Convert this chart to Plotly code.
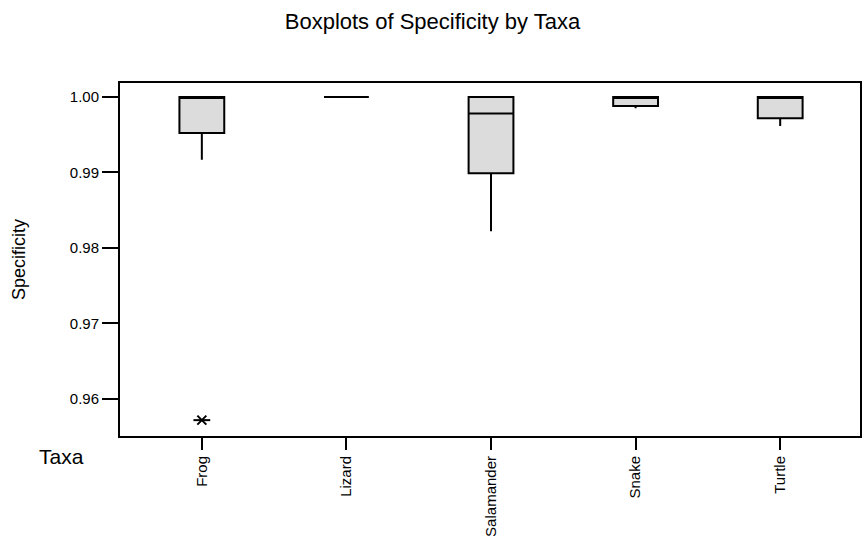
import plotly.graph_objects as go

taxa = ["Frog", "Lizard", "Salamander", "Snake", "Turtle"]
q1 = [0.99524, 1.0, 0.9899, 0.99881, 0.99718]
median = [1.0, 1.0, 0.9978, 1.0, 1.0]
q3 = [1.0, 1.0, 1.0, 1.0, 1.0]
lower_whisker = [0.99167, 1.0, 0.9822, 0.9985, 0.99616]
upper_whisker = [1.0, 1.0, 1.0, 1.0, 1.0]
outlier_taxa = ["Frog"]
outlier_values = [0.9572]
y_ticks = [0.96, 0.97, 0.98, 0.99, 1.00]

FONT = "Liberation Sans, Arial, sans-serif"

fig = go.Figure()
fig.add_trace(go.Box(
    x=taxa, q1=q1, median=median, q3=q3,
    lowerfence=lower_whisker, upperfence=upper_whisker,
    fillcolor="#DCDCDC", line=dict(color="black", width=2),
    width=0.31, whiskerwidth=0, boxpoints=False, showlegend=False,
    hoverinfo="y",
))
for sym, sz in (("x-thin-open", 9), ("line-ew-open", 12)):
    fig.add_trace(go.Scatter(
        x=outlier_taxa, y=outlier_values, mode="markers",
        marker=dict(symbol=sym, size=sz, color="black",
                    line=dict(color="black", width=2)),
        showlegend=False, hoverinfo="y",
    ))

fig.update_layout(
    width=865, height=548,
    margin=dict(l=120, r=3, t=83, b=112),
    paper_bgcolor="white", plot_bgcolor="white",
    font=dict(family=FONT, color="black", size=15),
    title=dict(text="Boxplots of Specificity by Taxa", x=0.5, xanchor="center",
               y=1 - 21 / 548, yanchor="middle", font=dict(size=22, family=FONT, color="black")),
    xaxis=dict(
        type="category", categoryorder="array", categoryarray=taxa,
        range=[-0.566, 4.552], showgrid=False, zeroline=False,
        showline=True, linecolor="black", linewidth=2, mirror=True,
        ticks="outside", ticklen=12, tickwidth=2, tickcolor="black",
        tickangle=-90, tickfont=dict(size=15, family=FONT, color="black"),
    ),
    yaxis=dict(
        range=[0.9551, 1.00185], tickvals=y_ticks,
        ticktext=[f"{v:.2f}" for v in y_ticks],
        showgrid=False, zeroline=False,
        showline=True, linecolor="black", linewidth=2, mirror=True,
        ticks="outside", ticklen=16, tickwidth=2, tickcolor="black",
        tickfont=dict(size=15, family=FONT, color="black"),
        title=dict(text="Specificity", standoff=39, font=dict(size=18, family=FONT, color="black")),
    ),
    annotations=[dict(
        text="Taxa", xref="paper", yref="paper",
        x=(61.5 - 120) / 742, y=(436 - 456) / 353,
        xanchor="center", yanchor="middle", showarrow=False,
        font=dict(size=21, family=FONT, color="black"),
    )],
)

fig.write_html(
    "out.html",
    config={"displayModeBar": False},
    post_script="document.body.style.margin='0';document.body.style.overflow='hidden';",
)
